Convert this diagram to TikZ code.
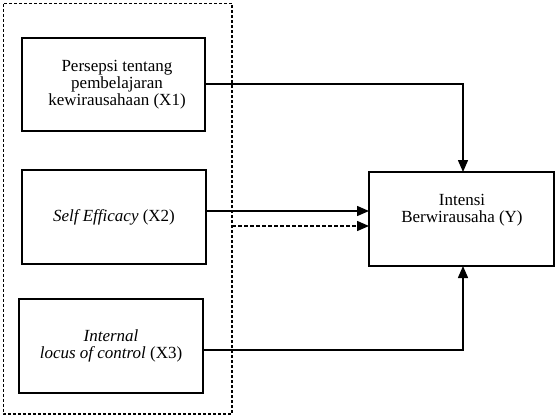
\documentclass[tikz,border=0pt]{standalone}
\usepackage{fontspec}
\setmainfont{Liberation Serif}
\usetikzlibrary{arrows.meta}
\begin{document}
\begin{tikzpicture}[x=1pt,y=-1pt,
  varbox/.style={draw,line width=1.6pt},
  lbl/.style={align=center,font=\fontsize{17}{17}\selectfont,inner sep=0pt},
  link/.style={line width=1.5pt,-{Triangle[length=12pt,width=10pt]}},
  dlink/.style={line width=1.5pt,dash pattern=on 3.5pt off 2.5pt,-{Triangle[length=12pt,width=10pt]}},
  groupbox/.style={draw,line width=1.5pt,dash pattern=on 3pt off 2pt}]
\useasboundingbox (0,0) rectangle (555,416);
% dashed frame round the independent variables
\draw[groupbox] (3.5,3.5) rectangle (232,414);
% independent variables
\draw[varbox] (22,38) rectangle (205,131);
\node[lbl] (x1) at (117,84.5) {Persepsi tentang\\pembelajaran\\kewirausahaan (X1)};
\coordinate (x1r) at (205,84);
\draw[varbox] (22,170) rectangle (206,264);
\node[lbl] (x2) at (114,217) {\textit{Self Efficacy} (X2)};
\coordinate (x2r) at (206,211);
\draw[varbox] (19,299) rectangle (203,393);
\node[lbl] (x3) at (111,346) {\textit{Internal}\\\textit{locus of control} (X3)};
\coordinate (x3r) at (203,350);
% dependent variable
\draw[varbox] (369,172) rectangle (554,266);
\node[lbl] (y) at (462,210) {Intensi\\Berwirausaha (Y)};
\coordinate (yt) at (463,172);
\coordinate (yb) at (463,266);
\coordinate (yl1) at (369,211);
\coordinate (yl2) at (369,226);
\coordinate (gr) at (232,226);
% connectors
\draw[link] (x1r) -| (yt);
\draw[link] (x2r) -- (yl1);
\draw[dlink] (gr) -- (yl2);
\draw[link] (x3r) -| (yb);
\end{tikzpicture}
\end{document}
